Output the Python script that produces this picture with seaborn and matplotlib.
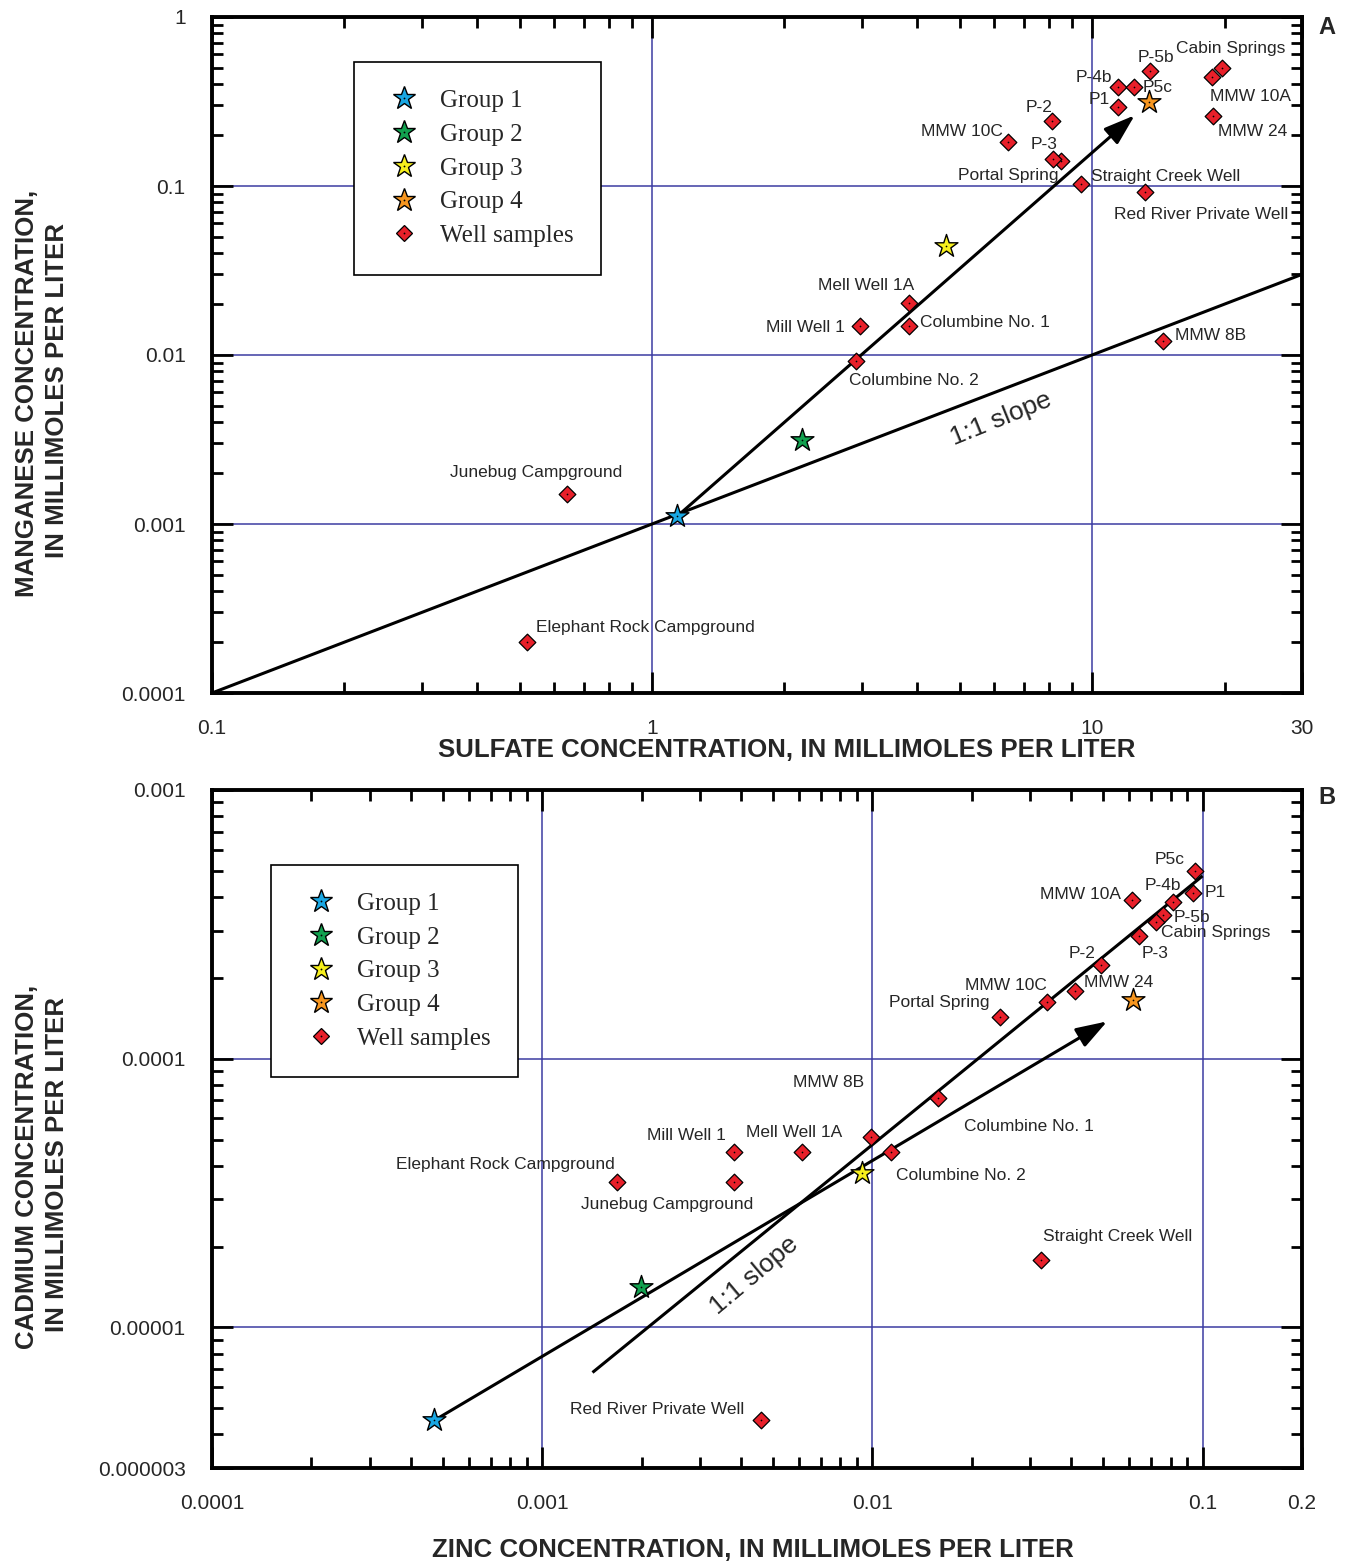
import numpy as np
import matplotlib
matplotlib.use("Agg")
import matplotlib.pyplot as plt
from matplotlib.ticker import FixedLocator, FixedFormatter, LogLocator, NullFormatter
from matplotlib.lines import Line2D
from matplotlib.legend_handler import HandlerTuple
import seaborn as sns

sns.set_style("ticks")
plt.rcParams["font.family"] = ["Liberation Sans", "DejaVu Sans"]

# ---------------- data ----------------
group_names = ["Group 1", "Group 2", "Group 3", "Group 4"]
group_colors = ["#19a7e3", "#12a14f", "#f6ef1d", "#f7961f"]
well_color = "#e8202a"
well_legend = "Well samples"

# Panel A: sulfate vs manganese (millimoles per liter)
a_group_sulfate = [1.14, 2.19, 4.66, 13.5]
a_group_manganese = [0.00111, 0.00314, 0.0442, 0.314]

a_well_names = ["Elephant Rock Campground", "Junebug Campground", "Columbine No. 2",
                "Mill Well 1", "Columbine No. 1", "Mell Well 1A", "MMW 8B", "MMW 10C",
                "P-2", "P-3", "Portal Spring", "Straight Creek Well",
                "Red River Private Well", "P-4b", "P1", "P5c", "P-5b",
                "Cabin Springs", "MMW 10A", "MMW 24"]
a_well_sulfate = [0.52, 0.641, 2.91, 2.97, 3.84, 3.84, 14.5, 6.44,
                  8.11, 8.5, 8.14, 9.44, 13.2, 11.44, 11.44, 12.46, 13.55,
                  19.7, 18.7, 18.8]
a_well_manganese = [0.0002, 0.00151, 0.0092, 0.0148, 0.0148, 0.0203, 0.0121, 0.182,
                    0.242, 0.141, 0.144, 0.103, 0.0918, 0.387, 0.294, 0.387, 0.479,
                    0.497, 0.443, 0.26]

a_slope_x = [0.1, 30]
a_slope_y = [0.0001, 0.03]
a_trend_start = (1.14, 0.00111)
a_trend_end = (12.5, 0.262)
a_xlim = (0.1, 30)
a_ylim = (0.0001, 1)
a_xticks = [0.1, 1, 10, 30]
a_xticklabels = ["0.1", "1", "10", "30"]
a_yticks = [0.0001, 0.001, 0.01, 0.1, 1]
a_yticklabels = ["0.0001", "0.001", "0.01", "0.1", "1"]

# Panel B: zinc vs cadmium (millimoles per liter)
b_group_zinc = [0.000471, 0.001995, 0.00933, 0.0617]
b_group_cadmium = [4.51e-6, 1.42e-5, 3.77e-5, 1.65e-4]

b_well_names = ["P5c", "P-4b", "P1", "MMW 10A", "P-5b", "Cabin Springs", "P-2", "P-3",
                "MMW 24", "MMW 10C", "Portal Spring", "MMW 8B", "Columbine No. 1",
                "Columbine No. 2", "Mell Well 1A", "Mill Well 1",
                "Elephant Rock Campground", "Junebug Campground",
                "Straight Creek Well", "Red River Private Well"]
b_well_zinc = [0.0946, 0.0811, 0.0933, 0.061, 0.0757, 0.0721, 0.0491, 0.0644,
               0.041, 0.0337, 0.0243, 0.01585, 0.00992,
               0.01135, 0.00614, 0.00382,
               0.001687, 0.00382,
               0.0323, 0.00461]
b_well_cadmium = [5.0e-4, 3.84e-4, 4.14e-4, 3.9e-4, 3.43e-4, 3.23e-4, 2.23e-4, 2.86e-4,
                  1.79e-4, 1.62e-4, 1.43e-4, 7.16e-5, 5.13e-5,
                  4.48e-5, 4.48e-5, 4.48e-5,
                  3.49e-5, 3.49e-5,
                  1.79e-5, 4.51e-6]

b_slope_x = [0.00142, 0.1]
b_slope_y = [6.8e-6, 4.79e-4]
b_trend_start = (0.000471, 4.51e-6)
b_trend_end = (0.0514, 1.377e-4)
b_xlim = (0.0001, 0.2)
b_ylim = (0.000003, 0.001)
b_xticks = [0.0001, 0.001, 0.01, 0.1, 0.2]
b_xticklabels = ["0.0001", "0.001", "0.01", "0.1", "0.2"]
b_yticks = [0.000003, 0.00001, 0.0001, 0.001]
b_yticklabels = ["0.000003", "0.00001", "0.0001", "0.001"]

# ---------------- label layout (pixel offsets from each point) ----------------
a_label_layout = {
    "Elephant Rock Campground": (9, 15, "left"),
    "Junebug Campground": (-117, 21, "left"),
    "Columbine No. 2": (-7, -19, "left"),
    "Mill Well 1": (-15, -1, "right"),
    "Columbine No. 1": (11, 4, "left"),
    "Mell Well 1A": (5, 18, "right"),
    "MMW 8B": (12, 6, "left"),
    "MMW 10C": (-5, 11, "right"),
    "P-2": (0, 14, "right"),
    "P-3": (-3, 16, "right"),
    "Portal Spring": (6, -16, "right"),
    "Straight Creek Well": (10, 7, "left"),
    "Red River Private Well": (-31, -22, "left"),
    "P-4b": (-6, 9, "right"),
    "P1": (-8, 7, "right"),
    "P5c": (9, -1, "left"),
    "P-5b": (-12, 14, "left"),
    "Cabin Springs": (-46, 20, "left"),
    "MMW 10A": (-2, -20, "left"),
    "MMW 24": (5, -16, "left"),
}
b_label_layout = {
    "P5c": (-10, 11, "right"),
    "P-4b": (9, 16, "right"),
    "P1": (12, 0, "left"),
    "MMW 10A": (-11, 5, "right"),
    "P-5b": (11, -3, "left"),
    "Cabin Springs": (5, -11, "left"),
    "P-2": (-5, 12, "right"),
    "P-3": (2, -17, "left"),
    "MMW 24": (9, 8, "left"),
    "MMW 10C": (0, 17, "right"),
    "Portal Spring": (-10, 14, "right"),
    "MMW 8B": (-74, 15, "right"),
    "Columbine No. 1": (93, 10, "left"),
    "Columbine No. 2": (5, -23, "left"),
    "Mell Well 1A": (-8, 20, "center"),
    "Mill Well 1": (-9, 17, "right"),
    "Elephant Rock Campground": (-2, 17, "right"),
    "Junebug Campground": (-67, -23, "center"),
    "Straight Creek Well": (2, 23, "left"),
    "Red River Private Well": (-17, 11, "right"),
}

GRID_COLOR = "#3c3ca2"
STAR_S = 300
DIAMOND_S = 72
STAR_MS = 17.3
DIAMOND_MS = 8.4


def style_axis(ax, xlim, ylim, xticks, xlabels, yticks, ylabels):
    ax.set_xscale("log")
    ax.set_yscale("log")
    ax.set_xlim(*xlim)
    ax.set_ylim(*ylim)
    ax.xaxis.set_major_locator(FixedLocator(xticks))
    ax.xaxis.set_major_formatter(FixedFormatter(xlabels))
    ax.yaxis.set_major_locator(FixedLocator(yticks))
    ax.yaxis.set_major_formatter(FixedFormatter(ylabels))
    ax.xaxis.set_minor_locator(LogLocator(base=10, subs=np.arange(2, 10), numticks=50))
    ax.yaxis.set_minor_locator(LogLocator(base=10, subs=np.arange(2, 10), numticks=50))
    ax.xaxis.set_minor_formatter(NullFormatter())
    ax.yaxis.set_minor_formatter(NullFormatter())
    ax.tick_params(which="both", direction="in", top=True, right=True, width=2.0,
                   color="black")
    ax.tick_params(which="major", length=15, pad=19, labelsize=15)
    ax.tick_params(which="minor", length=8)
    for sp in ax.spines.values():
        sp.set_linewidth(2.8)
        sp.set_color("black")
        sp.set_zorder(8)
    # decade grid lines
    for v in xticks:
        if abs(np.log10(v) - round(np.log10(v))) < 1e-9:
            ax.axvline(v, color=GRID_COLOR, lw=1.1, zorder=0)
    for v in yticks:
        if abs(np.log10(v) - round(np.log10(v))) < 1e-9:
            ax.axhline(v, color=GRID_COLOR, lw=1.1, zorder=0)


def draw_panel(ax, gx, gy, wnames, wx, wy, layout, slope_x, slope_y, t0, t1,
               slope_xy, slope_rot):
    # reference lines
    ax.plot(slope_x, slope_y, color="black", lw=2.2, zorder=3, solid_capstyle="butt")
    ax.annotate("", xy=t1, xytext=t0, zorder=3,
                arrowprops=dict(arrowstyle="-|>,head_length=0.95,head_width=0.32",
                                color="black", lw=2.2, shrinkA=0, shrinkB=0,
                                mutation_scale=20))
    ax.text(slope_xy[0], slope_xy[1], "1:1 slope", rotation=slope_rot, fontsize=19,
            ha="center", va="center", rotation_mode="anchor", zorder=4)
    # well samples
    sns.scatterplot(x=wx, y=wy, marker="D", s=DIAMOND_S, color=well_color,
                    edgecolor="black", linewidth=0.9, ax=ax, zorder=5, legend=False)
    # groups
    for x, y, c in zip(gx, gy, group_colors):
        sns.scatterplot(x=[x], y=[y], marker="*", s=STAR_S, color=c,
                        edgecolor="black", linewidth=1.0, ax=ax, zorder=6, legend=False)
    # centre dots
    ax.scatter(list(wx) + list(gx), list(wy) + list(gy), s=1.5, color="black",
               zorder=7, linewidths=0)
    for name, x, y in zip(wnames, wx, wy):
        dx, dy, ha = layout[name]
        ax.annotate(name, (x, y), xytext=(dx, dy), textcoords="offset pixels",
                    ha=ha, va="center", fontsize=12.5, zorder=6)


def add_legend(ax, anchor):
    handles = []
    for c in group_colors:
        star = Line2D([], [], ls="none", marker="*", ms=STAR_MS, mfc=c, mec="black",
                      mew=1.0)
        dot = Line2D([], [], ls="none", marker="o", ms=1.3, mfc="black", mec="none")
        handles.append((star, dot))
    dia = Line2D([], [], ls="none", marker="D", ms=DIAMOND_MS, mfc=well_color,
                 mec="black", mew=0.9)
    dot = Line2D([], [], ls="none", marker="o", ms=1.3, mfc="black", mec="none")
    handles.append((dia, dot))
    labels = group_names + [well_legend]
    leg = ax.legend(handles, labels, loc="upper left", bbox_to_anchor=anchor,
                    borderaxespad=0, frameon=True, fancybox=False, edgecolor="black",
                    framealpha=1, prop={"family": "Liberation Serif", "size": 18},
                    borderpad=1.1, handlelength=1.8, handletextpad=0.54,
                    labelspacing=0.45,
                    handler_map={tuple: HandlerTuple(ndivide=1, pad=0)})
    leg.get_frame().set_linewidth(1.2)
    leg.set_zorder(9)


W, H = 1350, 1564
fig = plt.figure(figsize=(W / 100, H / 100), dpi=100)
axA = fig.add_axes([212 / W, 1 - 693 / H, 1090 / W, 676 / H])
axB = fig.add_axes([212 / W, 1 - 1468 / H, 1090 / W, 678 / H])

style_axis(axA, a_xlim, a_ylim, a_xticks, a_xticklabels, a_yticks, a_yticklabels)
style_axis(axB, b_xlim, b_ylim, b_xticks, b_xticklabels, b_yticks, b_yticklabels)

draw_panel(axA, a_group_sulfate, a_group_manganese, a_well_names, a_well_sulfate,
           a_well_manganese, a_label_layout, a_slope_x, a_slope_y,
           a_trend_start, a_trend_end, (6.21, 0.00418), 22)
draw_panel(axB, b_group_zinc, b_group_cadmium, b_well_names, b_well_zinc,
           b_well_cadmium, b_label_layout, b_slope_x, b_slope_y,
           b_trend_start, b_trend_end, (0.00439, 1.56e-5), 40)

add_legend(axA, (0.1303, 0.9334))
add_legend(axB, (0.0541, 0.8894))

# axis titles
bold = dict(fontweight="bold", fontsize=18.6, ha="center", va="center")
fig.text(787 / W, 1 - 750 / H, "SULFATE CONCENTRATION, IN MILLIMOLES PER LITER", **bold)
fig.text(753 / W, 1 - 1550 / H, "ZINC CONCENTRATION, IN MILLIMOLES PER LITER", **bold)
fig.text(27 / W, 1 - 393 / H, "MANGANESE CONCENTRATION,", rotation=90, **bold)
fig.text(57 / W, 1 - 391 / H, "IN MILLIMOLES PER LITER", rotation=90, **bold)
fig.text(27 / W, 1 - 1167 / H, "CADMIUM CONCENTRATION,", rotation=90, **bold)
fig.text(57 / W, 1 - 1165 / H, "IN MILLIMOLES PER LITER", rotation=90, **bold)

fig.text(1327 / W, 1 - 27 / H, "A", fontweight="bold", fontsize=17, ha="center",
         va="center")
fig.text(1327 / W, 1 - 798 / H, "B", fontweight="bold", fontsize=17, ha="center",
         va="center")

fig.savefig("out.png", dpi=100, facecolor="white")
